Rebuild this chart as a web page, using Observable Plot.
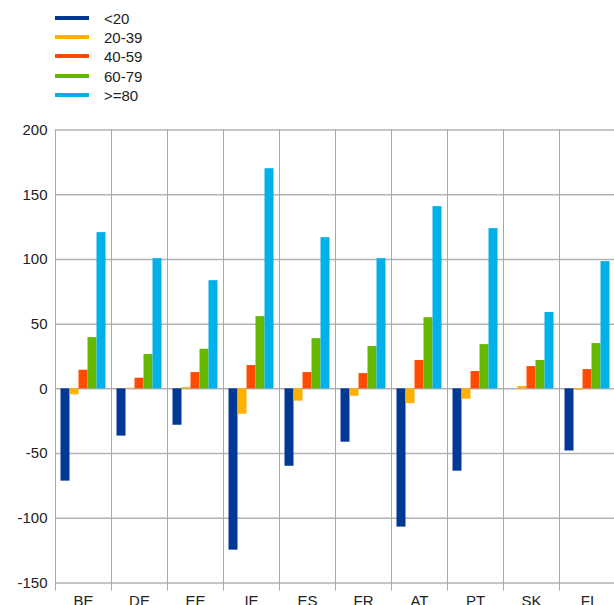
<!DOCTYPE html>
<html>
<head>
<meta charset="utf-8">
<script src="https://cdn.jsdelivr.net/npm/d3@7"></script>
<script src="https://cdn.jsdelivr.net/npm/@observablehq/plot@0.6"></script>
<style>
  html, body { margin: 0; padding: 0; background: #fff; overflow: hidden; }
  #legend { position: relative; height: 110px; font-family: "Liberation Sans", Arial, sans-serif; font-size: 15px; color: #222; }
  .item { position: absolute; left: 0; height: 19px; width: 200px; }
  .swatch { position: absolute; left: 55px; top: 7px; width: 34px; height: 4px; }
  .lab { position: absolute; left: 104px; top: 0; line-height: 19px; }
  #chart svg { display: block; overflow: visible; }
</style>
</head>
<body>
<div id="legend"></div>
<div id="chart"></div>
<script>
const countries = ["BE","DE","EE","IE","ES","FR","AT","PT","SK","FI"];
const series = ["<20","20-39","40-59","60-79",">=80"];
const colors = ["#003894","#ffb000","#ff4b00","#65b800","#00b1ea"];
const yTicks = [-150,-100,-50,0,50,100,150,200];

const vLt20  = [-71.3,-36.5,-28.1,-124.6,-59.8,-41.2,-106.8,-63.6,0,-48];
const v20_39 = [-4.6,0.5,1,-19.6,-9.5,-5.7,-11.4,-8,1.8,-1];
const v40_59 = [14.4,8.2,12.6,18,12.6,11.8,21.9,13.4,17.2,14.9];
const v60_79 = [39.6,26.5,30.6,55.8,38.8,32.7,55,34.2,21.9,35];
const vGe80  = [120.7,100.6,83.6,170.1,116.8,100.6,140.8,123.8,59,98.3];

const seriesValues = [vLt20, v20_39, v40_59, v60_79, vGe80];
const data = [];
countries.forEach((c, i) => {
  series.forEach((s, j) => data.push({country: c, series: s, value: seriesValues[j][i]}));
});

// legend
const legend = document.getElementById("legend");
series.forEach((s, j) => {
  const it = document.createElement("div");
  it.className = "item";
  it.style.top = (9 + j * 19.2) + "px";
  const sw = document.createElement("div");
  sw.className = "swatch";
  sw.style.background = colors[j];
  const lb = document.createElement("div");
  lb.className = "lab";
  lb.textContent = s;
  it.appendChild(sw); it.appendChild(lb);
  legend.appendChild(it);
});

const chart = Plot.plot({
  width: 614,
  height: 500,
  marginLeft: 55,
  marginRight: -1,
  marginTop: 19.5,
  marginBottom: 27.5,
  style: {fontFamily: "Liberation Sans, Arial, sans-serif", fontSize: "15px", color: "#222", background: "#fff"},
  fx: {domain: countries, padding: 0, round: false, label: null},
  x: {domain: series, paddingInner: 0, paddingOuter: 0.61, round: false, axis: null},
  y: {domain: [-150, 200], label: null},
  color: {domain: series, range: colors},
  marks: [
    Plot.gridY({ticks: yTicks, stroke: "#b3b3b3", strokeOpacity: 1, strokeWidth: 1.5}),
    Plot.frame({anchor: "left", stroke: "#a8a8a8", strokeOpacity: 1}),
    Plot.barY(data, {fx: "country", x: "series", y: "value", fill: "series", insetLeft: 0, insetRight: 0}),
    Plot.axisY({ticks: yTicks, tickFormat: d => String(d), tickSize: 0, tickPadding: 8, label: null, fontSize: 15}),
    Plot.axisFx({anchor: "bottom", tickSize: 0, tickPadding: 12, label: null, fontSize: 15}),
    Plot.axisFx({anchor: "bottom", tickSize: 8, tickFormat: () => "", dx: -28, label: null, stroke: "#a8a8a8"})
  ]
});
document.getElementById("chart").appendChild(chart);
</script>
</body>
</html>
